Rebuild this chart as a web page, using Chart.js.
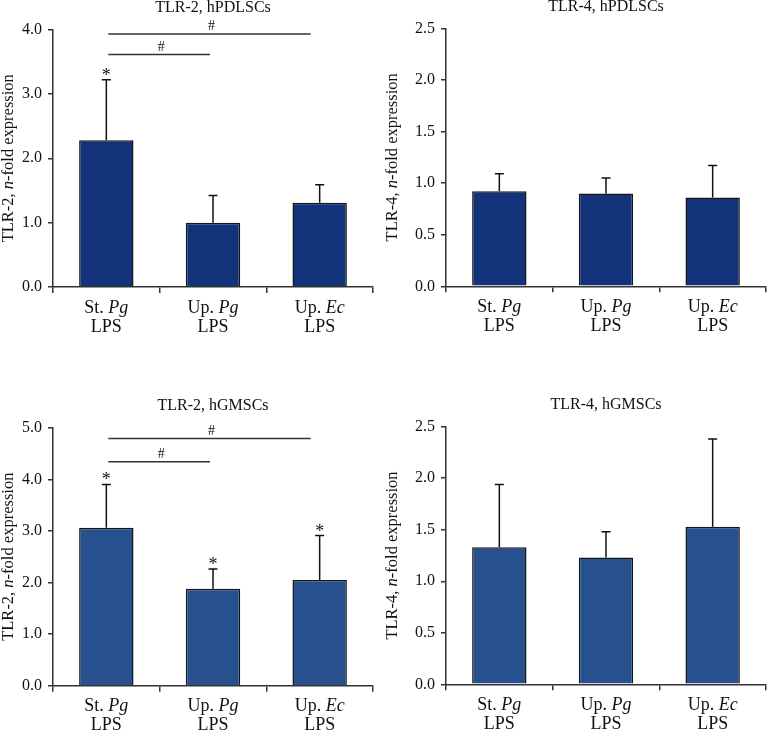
<!DOCTYPE html>
<html>
<head>
<meta charset="utf-8">
<script src="https://cdn.jsdelivr.net/npm/chart.js@4.4.1/dist/chart.umd.min.js"></script>
<style>
  body { margin: 0; background: #fff; }
  .panel { position: absolute; }
</style>
</head>
<body>
<div class="panel" style="left:0;top:0;width:384px;height:345px"><canvas id="c1"></canvas></div>
<div class="panel" style="left:384px;top:0;width:383px;height:345px"><canvas id="c2"></canvas></div>
<div class="panel" style="left:0;top:380px;width:384px;height:350px"><canvas id="c3"></canvas></div>
<div class="panel" style="left:384px;top:380px;width:383px;height:350px"><canvas id="c4"></canvas></div>
<script>
const categories = ['St. Pg LPS', 'Up. Pg LPS', 'Up. Ec LPS'];
const labelParts = [['St. ', 'Pg'], ['Up. ', 'Pg'], ['Up. ', 'Ec']];
const labelLine2 = 'LPS';

// means and upper error (SD)
const tlr2Pdl = [2.28, 1.00, 1.31];
const tlr2PdlErr = [0.94, 0.42, 0.28];
const tlr4Pdl = [0.92, 0.90, 0.86];
const tlr4PdlErr = [0.17, 0.15, 0.31];
const tlr2Gm = [3.06, 1.88, 2.05];
const tlr2GmErr = [0.84, 0.38, 0.86];
const tlr4Gm = [1.33, 1.23, 1.53];
const tlr4GmErr = [0.61, 0.25, 0.85];

const tlr2PdlStars = [true, false, false];
const tlr2GmStars = [true, true, true];
const tlr2PdlSig = [{from: 0, to: 2, y: 3.93}, {from: 0, to: 1, y: 3.61}];
const tlr2GmSig = [{from: 0, to: 2, y: 4.79}, {from: 0, to: 1, y: 4.34}];

const SERIF = '"Liberation Serif", "DejaVu Serif", serif';
const ink = '#111';
const axisCol = '#333';

function font(size, italic) {
  return (italic ? 'italic ' : '') + size + 'px ' + SERIF;
}

function drawParts(ctx, parts, x, y, size) {
  let total = 0;
  parts.forEach(p => { ctx.font = font(size, p[1]); total += ctx.measureText(p[0]).width; });
  let cx = x - total / 2;
  ctx.textAlign = 'left';
  parts.forEach(p => {
    ctx.font = font(size, p[1]);
    ctx.fillText(p[0], cx, y);
    cx += ctx.measureText(p[0]).width;
  });
}

function annot(spec) {
  return {
    id: 'annot',
    afterDatasetsDraw(chart) {
      const {ctx, chartArea, scales: {x, y}} = chart;
      ctx.save();
      ctx.fillStyle = ink;
      ctx.textBaseline = 'middle';

      // error bars (upper only)
      ctx.strokeStyle = '#111';
      ctx.lineWidth = 1.5;
      spec.values.forEach((v, i) => {
        const cx = x.getPixelForValue(i);
        const y0 = y.getPixelForValue(v);
        const y1 = y.getPixelForValue(v + spec.errors[i]);
        ctx.beginPath();
        ctx.moveTo(cx, y0); ctx.lineTo(cx, y1);
        ctx.moveTo(cx - 4.5, y1); ctx.lineTo(cx + 4.5, y1);
        ctx.stroke();
        if (spec.stars && spec.stars[i]) {
          ctx.font = font(18, false);
          ctx.textAlign = 'center';
          ctx.textBaseline = 'alphabetic';
          ctx.fillText('*', cx, y1 + 1);
          ctx.textBaseline = 'middle';
        }
      });

      // significance brackets
      (spec.sig || []).forEach(s => {
        const x1 = x.getPixelForValue(s.from) + 2;
        const x2 = x.getPixelForValue(s.to) - (s.to === 2 ? 9 : 3);
        const yy = y.getPixelForValue(s.y);
        ctx.strokeStyle = '#333';
        ctx.lineWidth = 1.5;
        ctx.beginPath(); ctx.moveTo(x1, yy); ctx.lineTo(x2, yy); ctx.stroke();
        ctx.font = font(14, false);
        ctx.textAlign = 'center';
        ctx.textBaseline = 'alphabetic';
        ctx.fillText('#', (x1 + x2) / 2 + 2, yy - 4);
        ctx.textBaseline = 'middle';
      });

      // title
      ctx.font = font(16, false);
      ctx.textAlign = 'center';
      ctx.fillText(spec.title, (chartArea.left + chartArea.right) / 2, chartArea.top - 22);

      // y title, rotated with italic n
      ctx.save();
      ctx.translate(9, (chartArea.top + chartArea.bottom) / 2);
      ctx.rotate(-Math.PI / 2);
      drawParts(ctx, [[spec.yName + ', ', false], ['n', true], ['-fold expression', false]], 0, 0, 16.5);
      ctx.restore();

      // category labels
      labelParts.forEach((lp, i) => {
        const cx = x.getPixelForValue(i);
        drawParts(ctx, [[lp[0], false], [lp[1], true]], cx, chartArea.bottom + 21, 18);
        ctx.font = font(18, false);
        ctx.textAlign = 'center';
        ctx.fillText(labelLine2, cx, chartArea.bottom + 40);
      });
      ctx.restore();
    }
  };
}

function makeChart(id, spec) {
  const canvas = document.getElementById(id);
  const W = canvas.parentNode.clientWidth, H = canvas.parentNode.clientHeight;
  const a = spec.area;
  const xh = 40;
  return new Chart(canvas, {
    type: 'bar',
    data: {
      labels: categories,
      datasets: [{
        data: spec.values,
        backgroundColor: spec.color,
        borderColor: '#151515',
        borderWidth: 1.5,
        borderSkipped: 'bottom',
        barPercentage: 0.51,
        categoryPercentage: 1
      }]
    },
    options: {
      responsive: true,
      maintainAspectRatio: false,
      animation: false,
      layout: { padding: { left: 0, top: a.top, right: W - a.right, bottom: H - a.bottom - xh } },
      plugins: { legend: { display: false }, tooltip: { enabled: false } },
      scales: {
        x: {
          grid: { drawOnChartArea: false, tickLength: 6, color: axisCol, lineWidth: 1.5, offset: true },
          border: { color: axisCol, width: 1.5 },
          ticks: { display: false },
          afterFit: s => { s.height = xh; }
        },
        y: {
          min: 0,
          max: spec.max,
          grid: { drawOnChartArea: false, tickLength: 5, color: axisCol, lineWidth: 1.5 },
          border: { color: axisCol, width: 1.5 },
          ticks: {
            stepSize: spec.step,
            padding: 6,
            color: ink,
            font: { family: SERIF, size: 16 },
            callback: v => Number(v).toFixed(1)
          },
          afterFit: s => { s.width = a.left; }
        }
      }
    },
    plugins: [annot(spec)]
  });
}

const topColor = '#12337a';
const botColor = '#27508e';

makeChart('c1', {
  title: 'TLR-2, hPDLSCs', yName: 'TLR-2', values: tlr2Pdl, errors: tlr2PdlErr,
  stars: tlr2PdlStars, sig: tlr2PdlSig, max: 4, step: 1, color: topColor,
  area: { left: 53, right: 373, top: 29.5, bottom: 287 }
});
makeChart('c2', {
  title: 'TLR-4, hPDLSCs', yName: 'TLR-4', values: tlr4Pdl, errors: tlr4PdlErr,
  max: 2.5, step: 0.5, color: topColor,
  area: { left: 62, right: 382, top: 28.3, bottom: 286.3 }
});
makeChart('c3', {
  title: 'TLR-2, hGMSCs', yName: 'TLR-2', values: tlr2Gm, errors: tlr2GmErr,
  stars: tlr2GmStars, sig: tlr2GmSig, max: 5, step: 1, color: botColor,
  area: { left: 53, right: 373, top: 47.7, bottom: 305.7 }
});
makeChart('c4', {
  title: 'TLR-4, hGMSCs', yName: 'TLR-4', values: tlr4Gm, errors: tlr4GmErr,
  max: 2.5, step: 0.5, color: botColor,
  area: { left: 62, right: 382, top: 46.7, bottom: 304.3 }
});
</script>
</body>
</html>
